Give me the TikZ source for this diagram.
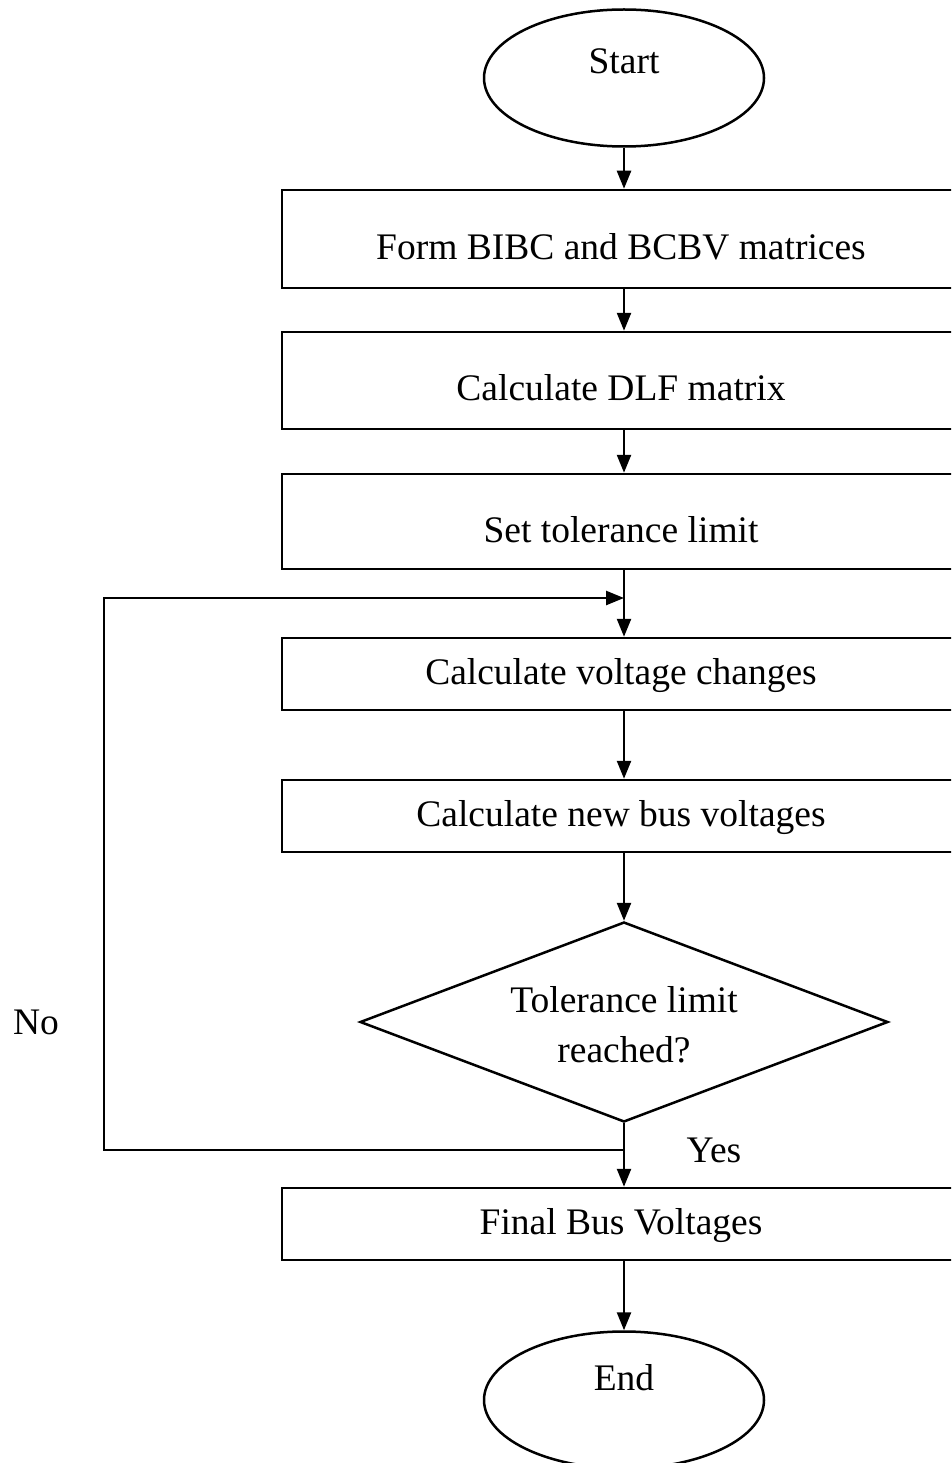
\documentclass[tikz,border=0pt]{standalone}
\usepackage{fontspec}
\setmainfont{Liberation Serif}
\usetikzlibrary{shapes.geometric,arrows.meta}
\begin{document}
\begin{tikzpicture}[x=1pt,y=-1pt,
  line width=2.5pt,
  txt/.style={font=\fontsize{37.5}{50}\selectfont, inner sep=0pt, anchor=base},
  stepbox/.style={draw, rectangle, minimum width=684pt, inner sep=0pt},
  terminal/.style={draw, ellipse, minimum width=280pt, minimum height=137pt, inner sep=0pt},
  decision/.style={draw, diamond, minimum width=528pt, minimum height=200pt, inner sep=0pt},
  flow/.style={-{Triangle[length=18pt,width=14pt]}},
]
% page frame
\useasboundingbox (0,0) rectangle (951,1463);
\clip (0,0) rectangle (951,1463);
\fill[white] (0,0) rectangle (951,1463);

% shapes
\node[terminal] (start) at (624,78) {};
\node[stepbox, minimum height=98pt] (b1) at (624,239) {};
\node[stepbox, minimum height=97pt] (b2) at (624,380.5) {};
\node[stepbox, minimum height=95pt] (b3) at (624,521.5) {};
\node[stepbox, minimum height=72pt] (b4) at (624,674) {};
\node[stepbox, minimum height=72pt] (b5) at (624,816) {};
\node[decision] (dec) at (624,1022) {};
\node[stepbox, minimum height=72pt] (b6) at (624,1224) {};
\node[terminal] (end) at (624,1400) {};

% labels
\node[txt] (tstart) at (624,74) {Start};
\node[txt] (t1) at (621,259) {Form BIBC and BCBV matrices};
\node[txt] (t2) at (621,400) {Calculate DLF matrix};
\node[txt] (t3) at (621,542) {Set tolerance limit};
\node[txt] (t4) at (621,684) {Calculate voltage changes};
\node[txt] (t5) at (621,826) {Calculate new bus voltages};
\node[txt] (td1) at (624,1012) {Tolerance limit};
\node[txt] (td2) at (624,1062) {reached?};
\node[txt] (t6) at (621,1234) {Final Bus Voltages};
\node[txt] (tend) at (624,1390) {End};
\node[txt] (tno) at (36,1034) {No};
\node[txt] (tyes) at (714,1162) {Yes};

% loop-back route
\coordinate (merge) at (624,598);
\coordinate (split) at (624,1150);
\coordinate (sw) at (104,1150);
\coordinate (nw) at (104,598);

% connectors
\draw[flow] (start) -- (b1);
\draw[flow] (b1) -- (b2);
\draw[flow] (b2) -- (b3);
\draw[flow] (b3) -- (b4);
\draw[flow] (b4) -- (b5);
\draw[flow] (b5) -- (dec);
\draw[flow] (dec) -- (b6);
\draw[flow] (b6) -- (end);
\draw[flow] (split) -- (sw) -- (nw) -- (merge);
\end{tikzpicture}
\end{document}
